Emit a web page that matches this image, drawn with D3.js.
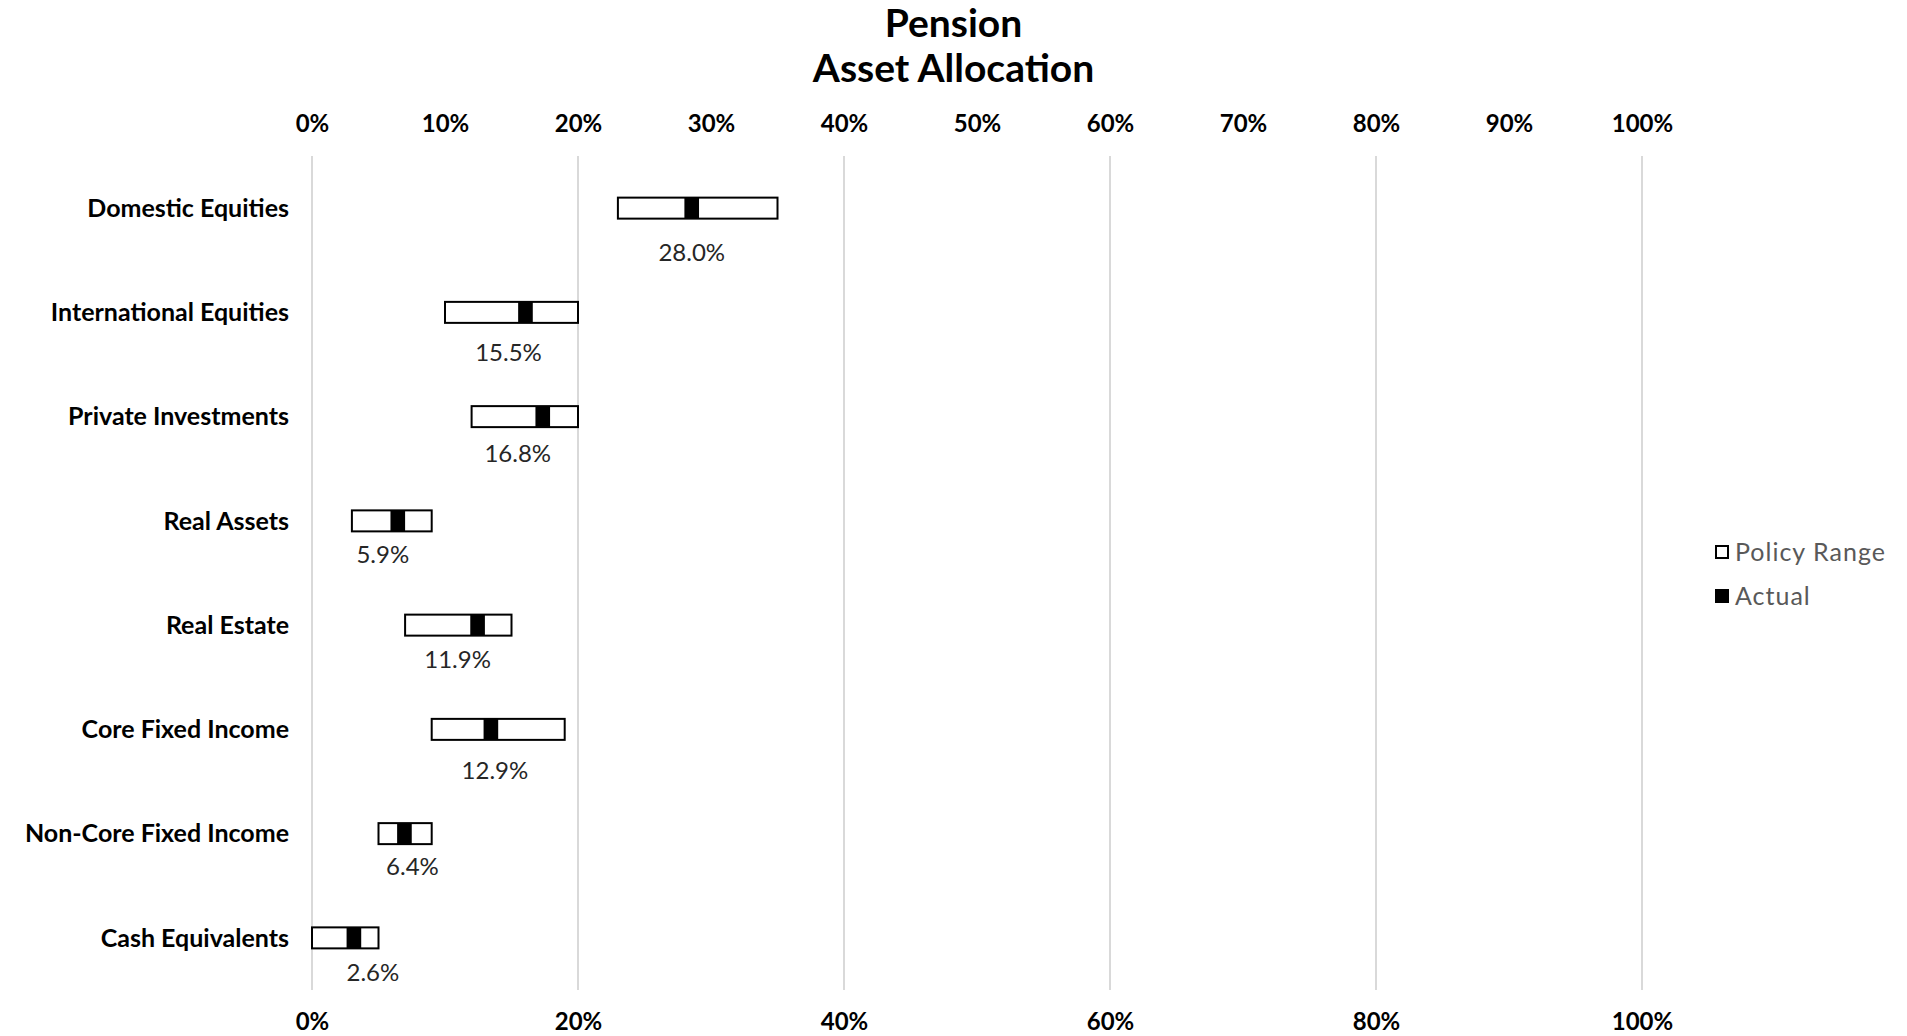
<!DOCTYPE html>
<html>
<head>
<meta charset="utf-8">
<script src="https://cdn.jsdelivr.net/npm/d3@7"></script>
<style>
  html, body { margin: 0; padding: 0; background: #fff; }
  svg { display: block; font-family: Lato, "Open Sans", sans-serif; }
</style>
</head>
<body>
<svg id="chart" width="1907" height="1036"></svg>
<script>
const categories = ["Domestic Equities", "International Equities", "Private Investments", "Real Assets",
  "Real Estate", "Core Fixed Income", "Non-Core Fixed Income", "Cash Equivalents"];
const rangeLow  = [23, 10, 12, 3, 7, 9, 5, 0];
const rangeHigh = [35, 20, 20, 9, 15, 19, 9, 5];
const actual    = [28.0, 15.5, 16.8, 5.9, 11.9, 12.9, 6.4, 2.6];
const actualMarkerWidth = 1.1;
const topTicks    = [0, 10, 20, 30, 40, 50, 60, 70, 80, 90, 100];
const bottomTicks = [0, 20, 40, 60, 80, 100];
const gridTicks   = [0, 20, 40, 60, 80, 100];
const titleLines = ["Pension", "Asset Allocation"];
const legendItems = ["Policy Range", "Actual"];

// manual label nudges (layout only, in px) as placed in the original
const labelNudgeX = [0, -17, -25, -15, -20, 4, 8, 19];
const labelNudgeY = [44, 40, 37, 34, 34, 41, 33, 35];

const svg = d3.select("#chart");
const x = d3.scaleLinear().domain([0, 100]).range([312, 1642]);
const y = d3.scaleBand().domain(categories).range([156, 990]);
const boxH = 21;

// title
svg.append("g").selectAll("text").data(titleLines).join("text")
  .attr("x", 953.5).attr("y", (d, i) => 37 + i * 45)
  .attr("text-anchor", "middle")
  .attr("font-size", 39).attr("font-weight", 700).attr("fill", "#000")
  .text(d => d);

// gridlines
svg.append("g").selectAll("line").data(gridTicks).join("line")
  .attr("x1", d => x(d)).attr("x2", d => x(d))
  .attr("y1", 156).attr("y2", 990)
  .attr("stroke", "#d9d9d9").attr("stroke-width", 2);

// axes
const fmt = d => d + "%";
const topAxis = svg.append("g").attr("transform", "translate(0,110)")
  .call(d3.axisTop(x).tickValues(topTicks).tickFormat(fmt).tickSize(0));
const botAxis = svg.append("g").attr("transform", "translate(0,1005)")
  .call(d3.axisBottom(x).tickValues(bottomTicks).tickFormat(fmt).tickSize(0));
[topAxis, botAxis].forEach(a => {
  a.select(".domain").remove();
  a.selectAll("text").attr("font-family", "Lato, sans-serif")
    .attr("font-size", 24).attr("font-weight", 700).attr("fill", "#000");
});
topAxis.selectAll("text").attr("dy", 0).attr("y", 0).attr("transform", "translate(0,22)");
botAxis.selectAll("text").attr("dy", 0).attr("y", 25);

// category labels
svg.append("g").selectAll("text").data(categories).join("text")
  .attr("x", 289).attr("y", d => y(d) + y.bandwidth() / 2)
  .attr("dy", "0.35em").attr("text-anchor", "end")
  .attr("font-size", 25).attr("font-weight", 700).attr("fill", "#000")
  .text(d => d);

const rows = categories.map((c, i) => ({ c, i, lo: rangeLow[i], hi: rangeHigh[i], a: actual[i] }));
const g = svg.append("g");
// policy range boxes
g.selectAll("rect.range").data(rows).join("rect").attr("class", "range")
  .attr("x", d => x(d.lo)).attr("width", d => x(d.hi) - x(d.lo))
  .attr("y", d => y(d.c) + y.bandwidth() / 2 - boxH / 2).attr("height", boxH)
  .attr("fill", "#fff").attr("stroke", "#000").attr("stroke-width", 2);
// actual markers
g.selectAll("rect.actual").data(rows).join("rect").attr("class", "actual")
  .attr("x", d => x(d.a)).attr("width", d => x(d.a + actualMarkerWidth) - x(d.a))
  .attr("y", d => y(d.c) + y.bandwidth() / 2 - boxH / 2).attr("height", boxH)
  .attr("fill", "#000");
// data labels
g.selectAll("text.lbl").data(rows).join("text").attr("class", "lbl")
  .attr("x", d => x(d.a + actualMarkerWidth / 2) + labelNudgeX[d.i])
  .attr("y", d => y(d.c) + y.bandwidth() / 2 + labelNudgeY[d.i])
  .attr("dy", "0.35em")
  .attr("text-anchor", "middle")
  .attr("font-size", 24).attr("fill", "#262626")
  .text(d => d.a.toFixed(1) + "%");

// legend
const lg = svg.append("g").attr("transform", "translate(1715,0)");
const li = lg.selectAll("g").data(legendItems).join("g")
  .attr("transform", (d, i) => `translate(0,${552 + i * 44})`);
li.append("rect").attr("x", 1).attr("y", -6).attr("width", 12).attr("height", 12)
  .attr("fill", (d, i) => i === 0 ? "#fff" : "#000")
  .attr("stroke", "#000").attr("stroke-width", 2);
li.append("text").attr("x", 20).attr("y", 0).attr("dy", "0.35em")
  .attr("font-size", 25).attr("letter-spacing", 1).attr("fill", "#595959")
  .text(d => d);
</script>
</body>
</html>
